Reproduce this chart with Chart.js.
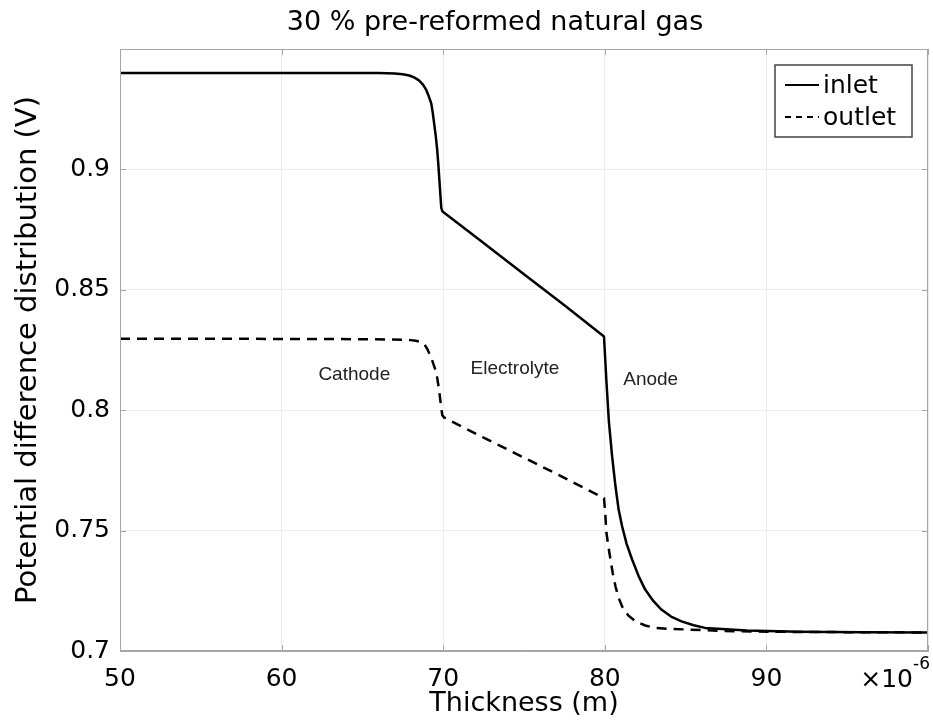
<!DOCTYPE html>
<html>
<head>
<meta charset="utf-8">
<script src="https://cdn.jsdelivr.net/npm/chart.js"></script>
<style>
  html, body { margin: 0; padding: 0; background: #fff; }
  #wrap { width: 933px; height: 722px; }
</style>
</head>
<body>
<div id="wrap"><canvas id="chart" width="933" height="722"></canvas></div>
<script>
// thickness (x 1e-6 m) and potential (V)
const inletX = [50, 55, 60, 65, 66, 67, 67.5, 67.9, 68.2, 68.5, 68.75, 68.95, 69.1, 69.26, 69.35, 69.44,
  69.54, 69.63, 69.7, 69.75, 69.82, 69.88, 69.95, 70,
  72.5, 75, 77.5, 79.95, 80.1, 80.25, 80.45, 80.66, 80.85, 81.07, 81.35, 81.69, 82.1, 82.5, 83, 83.5,
  84.1, 84.75, 85.5, 86.2, 87.5, 88.8, 92, 96, 100];
const inletY = [0.940, 0.940, 0.940, 0.940, 0.9400, 0.9398, 0.9395, 0.939, 0.9382, 0.937, 0.9352, 0.933, 0.9305, 0.9274, 0.9237, 0.919,
  0.9138, 0.908, 0.902, 0.897, 0.890, 0.884, 0.8826, 0.8823,
  0.8694, 0.8565, 0.8436, 0.8306, 0.812, 0.7955, 0.781, 0.7684, 0.759, 0.7518, 0.7445, 0.738, 0.731, 0.7255, 0.7208, 0.7172,
  0.7143, 0.7123, 0.7107, 0.7096, 0.709, 0.7085, 0.7080, 0.7078, 0.7077];

const outletX = [50, 55, 60, 65, 67.5, 68, 68.3, 68.6, 68.83, 69.05, 69.3, 69.48, 69.63, 69.72, 69.8, 69.87, 69.94, 70.05,
  72.5, 75, 77.5, 79.95, 80.03, 80.1, 80.22, 80.35, 80.5, 80.66, 80.85, 81.07, 81.45, 81.9, 82.5, 83.1, 84,
  85.2, 88, 92, 96, 100];
const outletY = [0.8297, 0.8297, 0.8296, 0.8295, 0.8293, 0.8291, 0.8288, 0.8284, 0.8275, 0.825, 0.821, 0.8175, 0.8134, 0.8095, 0.8054, 0.8015, 0.798, 0.797,
  0.7886, 0.7803, 0.7719, 0.7635, 0.757, 0.7492, 0.7435, 0.738, 0.732, 0.7269, 0.7222, 0.7185, 0.7148, 0.7123, 0.7106, 0.7096, 0.7092,
  0.7089, 0.7082, 0.7079, 0.7078, 0.7077];

const xTicks = [50, 60, 70, 80, 90];
const yTicks = [0.7, 0.75, 0.8, 0.85, 0.9];

const regions = ['Cathode', 'Electrolyte', 'Anode'];
const regionAt = [[64.5, 0.8146], [74.44, 0.8171], [82.84, 0.8125]];

const toPoints = (xs, ys) => xs.map((x, i) => ({ x: x, y: ys[i] }));

const FONT = 'DejaVu Sans';

// title, frame, inner ticks, legend, region labels, x multiplier
const decorations = {
  id: 'decorations',
  afterDraw(chart) {
    const ctx = chart.ctx;
    const a = chart.chartArea;
    const xs = chart.scales.x, ys = chart.scales.y;
    ctx.save();

    // frame
    ctx.strokeStyle = '#a6a6a6';
    ctx.lineWidth = 1;
    ctx.strokeRect(a.left + 0.5, a.top + 0.5, a.right - a.left - 1, a.bottom - a.top - 1);

    // small inward ticks
    ctx.beginPath();
    xTicks.concat([100]).forEach(v => {
      const px = Math.round(xs.getPixelForValue(v)) + 0.5;
      ctx.moveTo(px, a.bottom); ctx.lineTo(px, a.bottom - 6);
      ctx.moveTo(px, a.top); ctx.lineTo(px, a.top + 6);
    });
    yTicks.forEach(v => {
      const py = Math.round(ys.getPixelForValue(v)) + 0.5;
      ctx.moveTo(a.left, py); ctx.lineTo(a.left + 6, py);
      ctx.moveTo(a.right, py); ctx.lineTo(a.right - 6, py);
    });
    ctx.stroke();

    // title
    ctx.fillStyle = '#000';
    ctx.font = '27px "' + FONT + '"';
    ctx.textAlign = 'center';
    ctx.textBaseline = 'middle';
    ctx.fillText('30 % pre-reformed natural gas', 495, 23);

    // x multiplier
    ctx.textAlign = 'right';
    ctx.font = '25px "' + FONT + '"';
    ctx.fillText('\u00d710', 913, 680);
    ctx.textAlign = 'left';
    ctx.font = '17px "' + FONT + '"';
    ctx.fillText('-6', 913, 665);

    // region labels
    ctx.font = '19px "Liberation Sans"';
    ctx.textAlign = 'center';
    ctx.fillStyle = '#222';
    regions.forEach((t, i) => {
      ctx.fillText(t, xs.getPixelForValue(regionAt[i][0]), ys.getPixelForValue(regionAt[i][1]));
    });

    // legend
    const bx = 775, by = 65, bw = 137, bh = 72;
    ctx.fillStyle = '#fff';
    ctx.fillRect(bx, by, bw, bh);
    ctx.strokeStyle = '#444';
    ctx.lineWidth = 1.5;
    ctx.strokeRect(bx, by, bw, bh);
    chart.data.datasets.forEach((ds, i) => {
      const y = 85 + i * 32;
      ctx.beginPath();
      ctx.strokeStyle = '#000';
      ctx.lineWidth = 2;
      ctx.setLineDash(ds.borderDash && ds.borderDash.length ? [6, 5] : []);
      ctx.moveTo(785, y); ctx.lineTo(819, y);
      ctx.stroke();
      ctx.setLineDash([]);
      ctx.fillStyle = '#000';
      ctx.font = '25px "' + FONT + '"';
      ctx.textAlign = 'left';
      ctx.textBaseline = 'middle';
      ctx.fillText(ds.label, 823, y + 1);
    });

    ctx.restore();
  }
};

new Chart(document.getElementById('chart'), {
  type: 'line',
  data: {
    datasets: [
      {
        label: 'inlet',
        data: toPoints(inletX, inletY),
        borderColor: '#000',
        borderWidth: 2.5,
        borderJoinStyle: 'round',
        pointRadius: 0,
        tension: 0,
        fill: false
      },
      {
        label: 'outlet',
        data: toPoints(outletX, outletY),
        borderColor: '#000',
        borderWidth: 2.5,
        borderDash: [10, 7],
        pointRadius: 0,
        tension: 0,
        fill: false
      }
    ]
  },
  options: {
    responsive: false,
    animation: false,
    events: [],
    layout: { padding: { top: 49, right: 5, left: 0, bottom: 0 } },
    plugins: {
      legend: { display: false },
      title: { display: false },
      tooltip: { enabled: false }
    },
    scales: {
      x: {
        type: 'linear',
        min: 50,
        max: 100,
        afterFit: s => { s.height = 71; s.paddingLeft = 0; s.paddingRight = 0; },
        afterBuildTicks: s => { s.ticks = xTicks.concat([100]).map(v => ({ value: v })); },
        ticks: {
          color: '#000',
          font: { family: FONT, size: 25 },
          padding: 13,
          maxRotation: 0,
          autoSkip: false,
          callback: v => (v === 100 ? '' : String(v))
        },
        grid: { color: '#ececec', drawTicks: false },
        border: { color: '#a6a6a6' },
        title: {
          display: true,
          text: 'Thickness (m)',
          color: '#000',
          font: { family: FONT, size: 27 },
          padding: { top: 0, bottom: 2 }
        }
      },
      y: {
        min: 0.7,
        max: 0.95,
        afterFit: s => { s.width = 120; },
        afterBuildTicks: s => { s.ticks = yTicks.map(v => ({ value: v })); },
        ticks: {
          color: '#000',
          font: { family: FONT, size: 25 },
          padding: 10,
          autoSkip: false,
          callback: v => String(+v.toFixed(2))
        },
        grid: { color: '#ececec', drawTicks: false },
        border: { color: '#a6a6a6' },
        title: {
          display: true,
          text: 'Potential difference distribution (V)',
          color: '#000',
          font: { family: FONT, size: 29 },
          padding: { top: 11, bottom: 0 }
        }
      }
    }
  },
  plugins: [decorations]
});
</script>
</body>
</html>
